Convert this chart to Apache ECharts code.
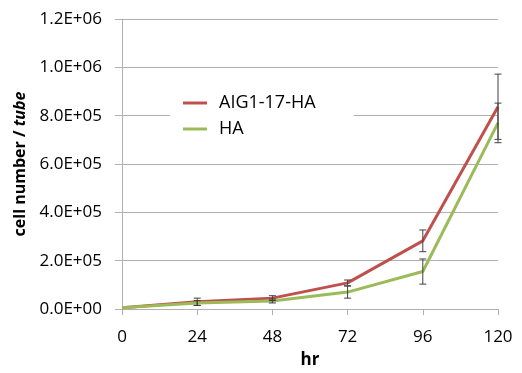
<!DOCTYPE html>
<html>
<head>
<meta charset="utf-8">
<script src="https://cdn.jsdelivr.net/npm/echarts@6/dist/echarts.min.js"></script>
<style>
  html, body { margin: 0; padding: 0; background: #fff; }
  #chart { width: 522px; height: 373px; }
</style>
</head>
<body>
<div id="chart"></div>
<script>
// values
const hours = [0, 24, 48, 72, 96, 120];
const aigMean = [5000, 30000, 45000, 108000, 282000, 837000];
const aigErr = [0, 15000, 10000, 12000, 45000, 135000];
const haMean = [5000, 25000, 33000, 70000, 155000, 770000];
const haErr = [0, 10000, 8000, 25000, 52000, 82000];

const fontFam = '"Open Sans", "DejaVu Sans", sans-serif';

function sciLabel(v) {
  if (v === 0) return '0.0E+00';
  const s = v.toExponential(1).split('e');
  let e = parseInt(s[1], 10);
  const sign = e < 0 ? '-' : '+';
  e = Math.abs(e);
  return s[0] + 'E' + sign + (e < 10 ? '0' + e : e);
}

function errData(mean, err) {
  const out = [];
  for (let i = 0; i < hours.length; i++) {
    if (err[i] > 0) out.push([hours[i], mean[i] - err[i], mean[i] + err[i]]);
  }
  return out;
}

function renderErr(params, api) {
  const x = api.value(0);
  const lo = api.coord([x, api.value(1)]);
  const hi = api.coord([x, api.value(2)]);
  const w = 3.5;
  const st = { stroke: '#404040', lineWidth: 1 };
  return {
    type: 'group',
    children: [
      { type: 'line', shape: { x1: lo[0], y1: lo[1], x2: hi[0], y2: hi[1] }, style: st },
      { type: 'line', shape: { x1: lo[0] - w, y1: lo[1], x2: lo[0] + w, y2: lo[1] }, style: st },
      { type: 'line', shape: { x1: hi[0] - w, y1: hi[1], x2: hi[0] + w, y2: hi[1] }, style: st }
    ]
  };
}

const chart = echarts.init(document.getElementById('chart'));
chart.setOption({
  backgroundColor: '#fff',
  animation: false,
  grid: { left: 122, right: 24, top: 19, bottom: 64, containLabel: false, outerBoundsMode: 'none' },
  legend: {
    orient: 'vertical',
    left: 170,
    top: 89,
    padding: [5, 38, 5, 13],
    itemGap: 8,
    itemWidth: 24,
    itemHeight: 3,
    icon: 'rect',
    backgroundColor: '#fff',
    textStyle: { fontFamily: fontFam, fontSize: 18, color: '#000', padding: [0, 0, 0, 7] },
    data: ['AIG1-17-HA', 'HA']
  },
  xAxis: {
    type: 'value',
    min: 0,
    max: 120,
    interval: 24,
    name: 'hr',
    nameLocation: 'middle',
    nameGap: 43,
    nameTextStyle: { fontFamily: fontFam, fontSize: 17, fontWeight: 'bold', color: '#000' },
    axisLine: { lineStyle: { color: '#b0b0b0' } },
    axisTick: { show: true, length: 6, lineStyle: { color: '#b0b0b0' } },
    axisLabel: { fontFamily: fontFam, fontSize: 17, color: '#000', margin: 20 },
    splitLine: { show: false }
  },
  yAxis: {
    type: 'value',
    min: 0,
    max: 1200000,
    interval: 200000,
    name: '{b|cell number / }{bi|tube}',
    nameLocation: 'middle',
    nameGap: 94,
    nameRotate: 90,
    nameTextStyle: {
      rich: {
        b: { fontFamily: fontFam, fontSize: 16, fontWeight: 'bold', color: '#000' },
        bi: { fontFamily: fontFam, fontSize: 16, fontWeight: 'bold', fontStyle: 'italic', color: '#000' }
      }
    },
    axisLine: { show: true, lineStyle: { color: '#b0b0b0' } },
    axisTick: { show: true, length: 7, lineStyle: { color: '#b0b0b0' } },
    axisLabel: { fontFamily: fontFam, fontSize: 17, color: '#000', margin: 20, formatter: sciLabel },
    splitLine: { lineStyle: { color: '#b0b0b0' } }
  },
  series: [
    {
      name: 'AIG1-17-HA',
      type: 'line',
      symbol: 'none',
      itemStyle: { color: '#c0504d' },
      lineStyle: { width: 3, color: '#c0504d' },
      data: hours.map((h, i) => [h, aigMean[i]]),
      z: 3
    },
    {
      name: 'HA',
      type: 'line',
      symbol: 'none',
      itemStyle: { color: '#9bbb59' },
      lineStyle: { width: 3, color: '#9bbb59' },
      data: hours.map((h, i) => [h, haMean[i]]),
      z: 3
    },
    {
      type: 'custom',
      renderItem: renderErr,
      data: errData(aigMean, aigErr),
      z: 4,
      silent: true
    },
    {
      type: 'custom',
      renderItem: renderErr,
      data: errData(haMean, haErr),
      z: 4,
      silent: true
    }
  ]
});
</script>
</body>
</html>
